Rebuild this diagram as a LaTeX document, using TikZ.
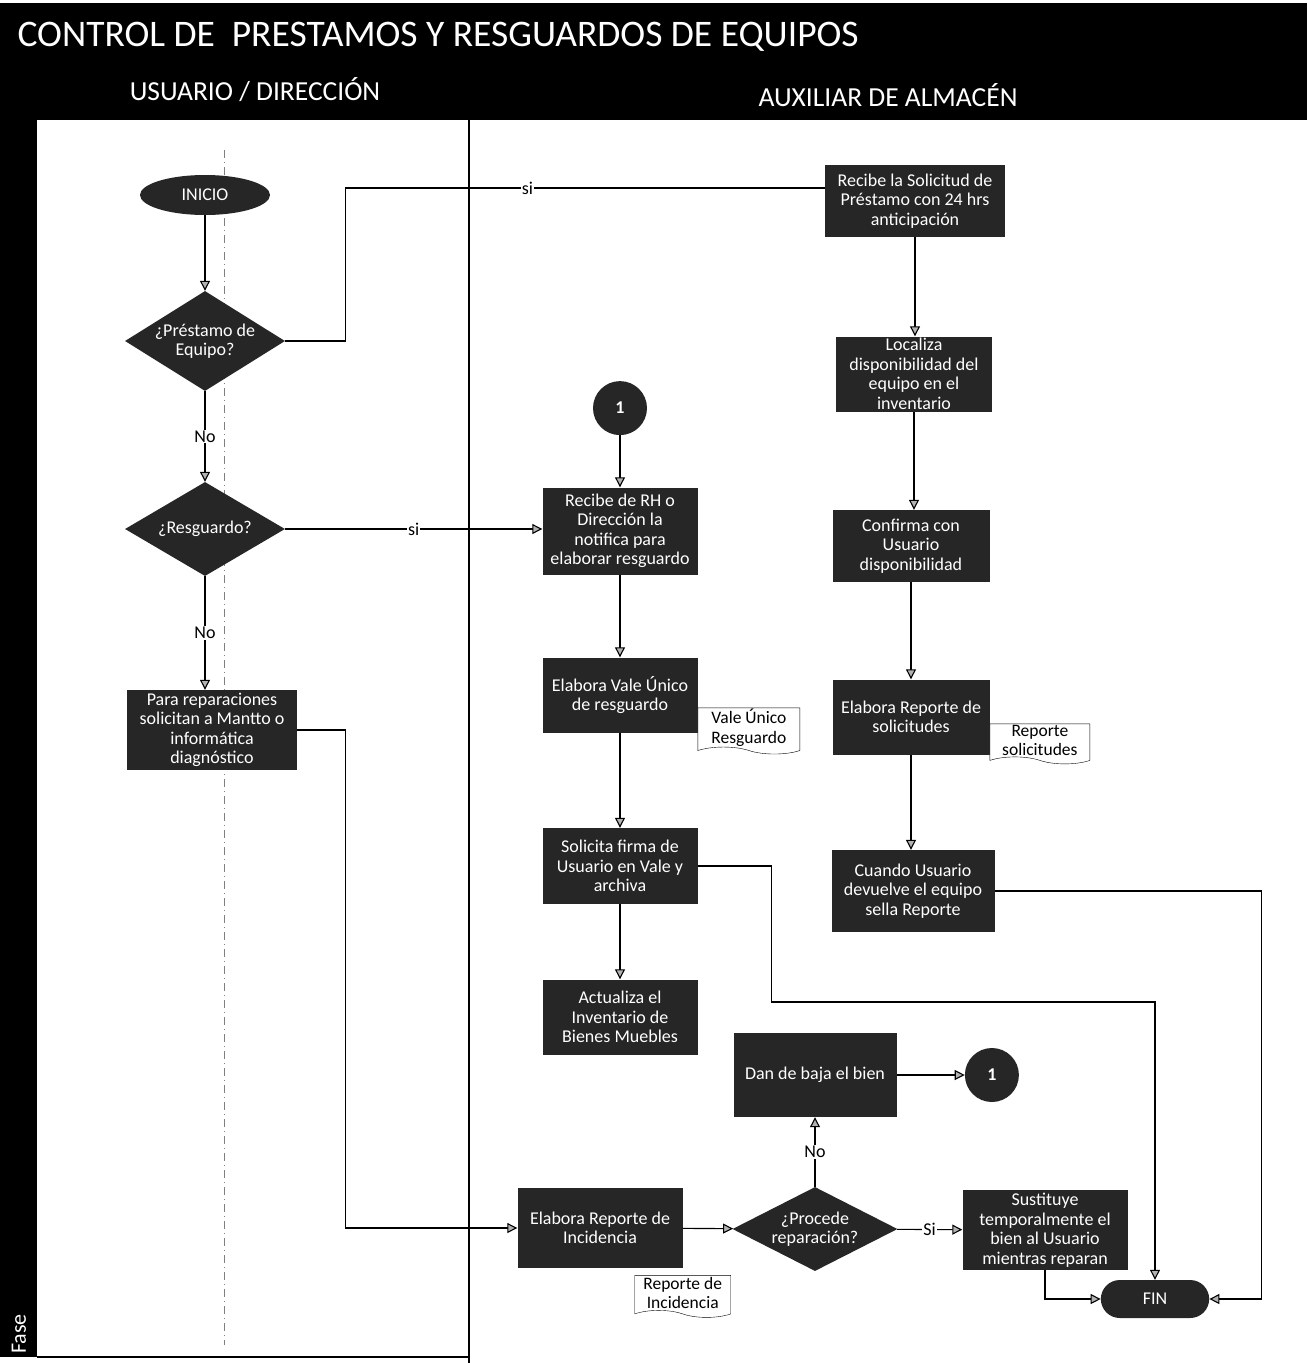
\documentclass[tikz,border=0pt]{standalone}
\usepackage{fontspec}
\setmainfont{Carlito}
\usetikzlibrary{positioning}
\usetikzlibrary{shapes.geometric,shapes.misc,shapes.symbols,arrows.meta}

\definecolor{boxblack}{RGB}{38,38,38}

\tikzset{
  proc/.style={fill=boxblack, text=white, align=center, inner sep=1pt,
    font=\fontsize{18}{19.5}\selectfont},
  decision/.style={diamond, fill=boxblack, text=white, align=center, inner sep=-2pt,
    font=\fontsize{18}{19.5}\selectfont},
  doc/.style={tape, tape bend top=none, tape bend bottom=out and in, tape bend height=7pt,
    draw, fill=white, align=center, inner sep=1pt, font=\fontsize{17.5}{19.5}\selectfont},
  connect/.style={circle, fill=boxblack, text=white, minimum size=54pt, inner sep=0pt,
    font=\fontsize{18}{19}\bfseries},
  lbl/.style={fill=white, inner sep=1pt, font=\fontsize{18}{20}\selectfont},
  flow/.style={->, line width=1.1pt},
  line/.style={line width=1.1pt},
}

\begin{document}
\begin{tikzpicture}[x=1pt, y=1pt, >={Triangle[length=10pt,width=10pt,fill=gray!60]}]
  \useasboundingbox (0,0) rectangle (1307,-1363);
  % frame and lanes
  \fill[black] (0,-3) rectangle (1307,-120);
  \fill[black] (0,-120) rectangle (37,-1357);
  \draw[line] (37,-1357) -- (469,-1357);
  \draw[line] (469,-120) -- (469,-1363);
  \draw[gray, thin, dash pattern=on 8pt off 4pt on 1pt off 4pt] (224,-150) -- (224,-1345);

  \node (title) [anchor=west, text=white, font=\fontsize{37.5}{42}\selectfont] at (14,-37)
    {CONTROL DE \ PRESTAMOS Y RESGUARDOS DE EQUIPOS};
  \node (laneuser) [text=white, font=\fontsize{27.5}{30}\selectfont] at (255,-90) {USUARIO / DIRECCIÓN};
  \node (lanealm) [text=white, font=\fontsize{27.5}{30}\selectfont] at (888,-95) {AUXILIAR DE ALMACÉN};
  \node (fase) [rotate=90, text=white, font=\fontsize{22}{24}\selectfont] at (19,-1334) {Fase};

  % usuario / direccion
  \node (inicio) [ellipse, fill=boxblack, text=white, minimum width=130pt, minimum height=40pt,
    font=\fontsize{18}{19}\selectfont] at (205,-195) {INICIO};
  \node (prest) [decision, shape aspect=1.6, minimum width=160pt, minimum height=100pt] at (205,-341)
    {¿Préstamo de\\Equipo?};
  \node (resg) [decision, shape aspect=1.7, minimum width=160pt, minimum height=94pt] at (205,-529)
    {¿Resguardo?};
  \node (repar) [proc, minimum width=170pt, minimum height=80pt] at (212,-730)
    {Para reparaciones\\solicitan a Mantto o\\informática\\diagnóstico};

  % auxiliar de almacen: prestamo
  \node (recsol) [proc, minimum width=180pt, minimum height=72pt] at (915,-201)
    {Recibe la Solicitud de\\Préstamo con 24 hrs\\anticipación};
  \node (localiza) [proc, minimum width=156pt, minimum height=75pt] at (914,-374)
    {Localiza\\disponibilidad del\\equipo en el\\inventario};
  \node (confirma) [proc, minimum width=157pt, minimum height=72pt] at (911,-546)
    {Confirma con\\Usuario\\disponibilidad};
  \node (elabsol) [proc, minimum width=157pt, minimum height=75pt] at (911,-717)
    {Elabora Reporte de\\solicitudes};
  \node (docsol) [doc, minimum width=100pt, minimum height=40pt, below right=-31pt and 0pt of elabsol]
    {Reporte\\solicitudes};
  \node (devuelve) [proc, minimum width=163pt, minimum height=82pt] at (913,-891)
    {Cuando Usuario\\devuelve el equipo\\sella Reporte};

  % auxiliar de almacen: resguardo
  \node (recrh) [proc, minimum width=155pt, minimum height=87pt] at (620,-531)
    {Recibe de RH o\\Dirección la\\notifica para\\elaborar resguardo};
  \node (con1) [connect, above=52pt of recrh] {1};
  \node (vale) [proc, minimum width=155pt, minimum height=75pt] at (620,-695)
    {Elabora Vale Único\\de resguardo};
  \node (docvale) [doc, minimum width=102pt, minimum height=44pt, below right=-25pt and 0pt of vale]
    {Vale Único\\Resguardo};
  \node (firma) [proc, minimum width=155pt, minimum height=76pt] at (620,-866)
    {Solicita firma de\\Usuario en Vale y\\archiva};
  \node (actualiza) [proc, minimum width=155pt, minimum height=75pt] at (620,-1017)
    {Actualiza el\\Inventario de\\Bienes Muebles};

  % reparacion
  \node (baja) [proc, minimum width=163pt, minimum height=84pt] at (815,-1075) {Dan de baja el bien};
  \node (con1b) [connect, right=68pt of baja] {1};
  \node (incid) [proc, minimum width=165pt, minimum height=80pt] at (600,-1228)
    {Elabora Reporte de\\Incidencia};
  \node (docinc) [doc, minimum width=96pt, minimum height=42pt, below=7pt of incid.south east]
    {Reporte de\\Incidencia};
  \node (procede) [decision, shape aspect=2, minimum width=165pt, minimum height=84pt] at (815,-1229)
    {¿Procede\\reparación?};
  \node (sustituye) [proc, minimum width=165pt, minimum height=80pt] at (1045,-1230)
    {Sustituye\\temporalmente el\\bien al Usuario\\mientras reparan};
  \node (fin) [rounded rectangle, fill=boxblack, text=white, minimum width=115pt, minimum height=38pt,
    font=\fontsize{18}{19}\selectfont] at (1155,-1299) {FIN};

  % connectors
  \draw[flow] (inicio) -- (prest);
  \draw[line] (prest.east) -- ++(60,0) |- node[pos=0.69, lbl] {si} ([yshift=13pt]recsol.west);
  \draw[flow] (prest) -- node[lbl] {No} (resg);
  \draw[flow] (resg.east) -- node[lbl] {si} (resg.east -| recrh.west);
  \draw[flow] (resg.south) -- node[lbl] {No} (resg.south |- repar.north);
  \draw[flow] (repar.east) -- ++(48,0) |- (incid.west);

  \draw[flow] (recsol.south) -- (recsol.south |- localiza.north);
  \draw[flow] (localiza.south) -- (localiza.south |- confirma.north);
  \draw[flow] (confirma) -- (elabsol);
  \draw[flow] (elabsol.south) -- (elabsol.south |- devuelve.north);
  \draw[flow] (devuelve.east) -- ++(267,0) |- (fin.east);

  \draw[flow] (con1) -- (recrh);
  \draw[flow] (recrh) -- (vale);
  \draw[flow] (vale) -- (firma);
  \draw[flow] (firma) -- (actualiza);
  \draw[flow] (firma.east) -- ++(74,0) -- ++(0,-136) -| (fin.north);

  \draw[flow] (baja) -- (con1b);
  \draw[flow] (incid) -- (procede);
  \draw[flow] (procede) -- node[lbl] {No} (baja);
  \draw[flow] (procede) -- node[lbl] {Si} (sustituye);
  \draw[flow] (sustituye.south) |- (fin.west);
\end{tikzpicture}
\end{document}
